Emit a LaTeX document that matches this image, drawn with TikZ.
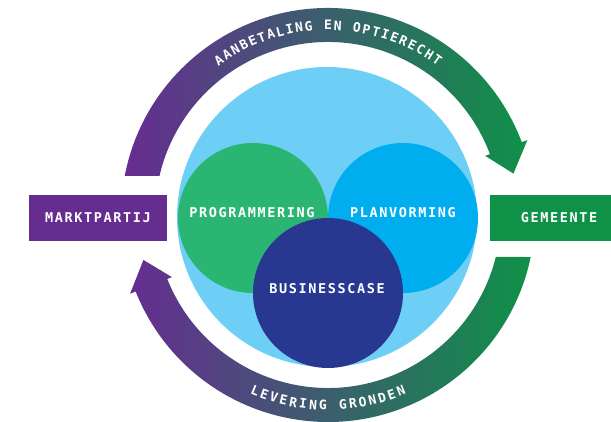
\documentclass[tikz,border=0pt]{standalone}
\usepackage{fontspec}
\newfontfamily\lblfont{DejaVu Sans Mono}[LetterSpace=12]
\newfontfamily\arcfont{DejaVu Sans Mono}
\definecolor{mpurple}{RGB}{102,45,145}
\definecolor{mgreen}{RGB}{15,145,72}
\definecolor{lblue}{RGB}{109,207,246}
\definecolor{cgreen}{RGB}{43,181,115}
\definecolor{cblue}{RGB}{0,174,239}
\definecolor{dblue}{RGB}{40,56,145}
\begin{document}
\begin{tikzpicture}[x=1pt,y=1pt,
  bubble/.style={circle, inner sep=0pt, minimum size=150pt},
  lbl/.style={text=white, font={\lblfont\bfseries\fontsize{13.5}{14}\selectfont}, inner sep=0pt, text height=9.9pt, text depth=0pt},
  arcchar/.style={text=white, font={\arcfont\bfseries\fontsize{13}{14}\selectfont}, inner sep=0pt, anchor=base},
  actor/.style={minimum width=138pt, minimum height=46pt, inner sep=0pt},
  flow/.style={left color=mpurple, right color=mgreen}]
\clip (0,0) rectangle (611,422);
\fill[white] (0,0) rectangle (611,422);

% core circles
\node[circle, inner sep=0pt, minimum size=300pt, fill=lblue] (core) at (327,205) {};
\node[bubble, fill=cgreen] (prog) at (253,204) {};
\node[bubble, fill=cblue] (plan) at (403,204) {};
\node[bubble, fill=dblue] (bus) at (328,129) {};
\node[lbl] (progt) at (252,209) {PROGRAMMERING};
\node[lbl] (plant) at (403,209) {PLANVORMING};
\node[lbl] (bust) at (327,133) {BUSINESSCASE};

% actors
\node[actor, lbl, fill=mpurple] (mp) at (98,204) {MARKTPARTIJ};
\node[actor, lbl, fill=mgreen] (gm) at (559,204) {GEMEENTE};

% flow arrows
\begin{scope}[shift={(328,207)}]
  \shade[flow] (169.14:207) arc[start angle=169.14, end angle=20.6, radius=207pt]
    -- (20.6:213) -- (12.6:190) -- (20.6:168) -- (20.6:173)
    arc[start angle=20.6, end angle=166.97, radius=173pt] -- cycle;
  \shade[flow] (-11.71:207) arc[start angle=-11.71, end angle=-158.3, radius=207pt]
    -- (-158.3:213) -- (-166.3:190) -- (-158.3:168) -- (-158.3:173)
    arc[start angle=-158.3, end angle=-14.05, radius=173pt] -- cycle;
  \foreach \c [count=\i] in {A,A,N,B,E,T,A,L,I,N,G,{},E,N,{},O,P,T,I,E,R,E,C,H,T}{
    \pgfmathsetmacro{\a}{90+(13-\i)*2.93}
    \node[arcchar, rotate=\a-90] (ta\i) at (\a:185) {\c};
  }
  \foreach \c [count=\i] in {L,E,V,E,R,I,N,G,{},G,R,O,N,D,E,N}{
    \pgfmathsetmacro{\a}{-90+(\i-8.5)*3.0}
    \node[arcchar, rotate=\a+90] (tb\i) at (\a:195) {\c};
  }
\end{scope}
\end{tikzpicture}
\end{document}
